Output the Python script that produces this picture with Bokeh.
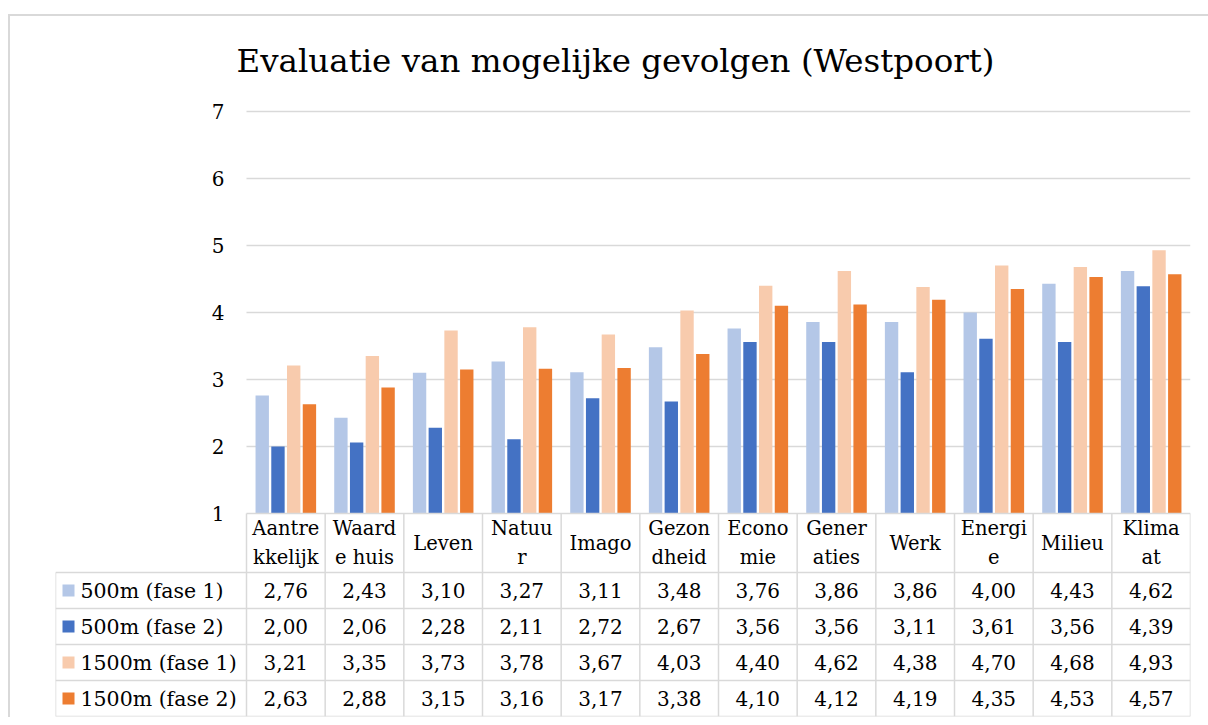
from bokeh.plotting import figure
from bokeh.models import Range1d, LinearAxis, FixedTicker
from bokeh.layouts import column
from bokeh.embed import file_html
from bokeh.resources import INLINE
from bokeh.core.properties import value

chart_title = "Evaluatie van mogelijke gevolgen (Westpoort)"
categories = ["Aantrekkelijk", "Waarde huis", "Leven", "Natuur", "Imago", "Gezondheid",
              "Economie", "Generaties", "Werk", "Energie", "Milieu", "Klimaat"]
header_labels = ["Aantre\nkkelijk", "Waard\ne huis", "Leven", "Natuu\nr", "Imago", "Gezon\ndheid",
                 "Econo\nmie", "Gener\naties", "Werk", "Energi\ne", "Milieu", "Klima\nat"]
series_names = ["500m (fase 1)", "500m (fase 2)", "1500m (fase 1)", "1500m (fase 2)"]
s500_fase1 = [2.76, 2.43, 3.10, 3.27, 3.11, 3.48, 3.76, 3.86, 3.86, 4.00, 4.43, 4.62]
s500_fase2 = [2.00, 2.06, 2.28, 2.11, 2.72, 2.67, 3.56, 3.56, 3.11, 3.61, 3.56, 4.39]
s1500_fase1 = [3.21, 3.35, 3.73, 3.78, 3.67, 4.03, 4.40, 4.62, 4.38, 4.70, 4.68, 4.93]
s1500_fase2 = [2.63, 2.88, 3.15, 3.16, 3.17, 3.38, 4.10, 4.12, 4.19, 4.35, 4.53, 4.57]
y_ticks = [1, 2, 3, 4, 5, 6, 7]
colors = ["#B4C7E7", "#4472C4", "#F8CBAD", "#ED7D31"]

series = [s500_fase1, s500_fase2, s1500_fase1, s1500_fase2]
FONT = "DejaVu Serif"
GRID = "#d9d9d9"

# layout constants (pixels)
U = 944 / 12.0          # px per category
LEG_W = 191.0           # legend column width px
XL = LEG_W / U
PX_PER_UNIT = 67.0
TOP_PAD = 12.0          # room above the top tick for its label
CHART_H = 402.0 + TOP_PAD
HEAD_H = 59.0
ROW_H = 36.0
TBL_H = HEAD_H + ROW_H * len(series)
FRAME_H = CHART_H + TBL_H
ybot = y_ticks[0] - TBL_H / PX_PER_UNIT
ytop = y_ticks[-1] + TOP_PAD / PX_PER_UNIT

n = len(categories)
p = figure(width=1198, height=int(FRAME_H) + 84,
           x_range=Range1d(-XL, n), y_range=Range1d(ybot, ytop),
           output_backend="svg", toolbar_location=None,
           min_border_left=45, min_border_right=18, min_border_top=83, min_border_bottom=1,
           x_axis_location=None, y_axis_location=None)
p.extra_y_ranges = {"tbl": Range1d(start=FRAME_H, end=0)}
p.grid.visible = False
p.outline_line_color = None
p.background_fill_color = "white"

p.title.text = chart_title
p.title.text_font = FONT
p.title.text_font_size = "32.5px"
p.title.text_font_style = "normal"
p.title.text_color = "black"
p.title.align = "left"
p.title.offset = 181
p.title.standoff = 40

# y axis placed at category start
ax = LinearAxis(ticker=FixedTicker(ticks=y_ticks), fixed_location=0,
                axis_line_color=None, major_tick_line_color=None, minor_tick_line_color=None,
                major_label_text_font=FONT, major_label_text_font_size="20px",
                major_label_standoff=16, major_label_text_color="black")
p.add_layout(ax, "left")

# grid lines (ticks above the base)
gy = y_ticks[1:]
p.segment(x0=[0] * len(gy), x1=[n] * len(gy), y0=gy, y1=gy, line_color=GRID, line_width=1.3)

# bars
offsets = [-0.3, -0.1, 0.1, 0.3]
for vals, col, off in zip(series, colors, offsets):
    xs = [i + 0.5 + off for i in range(n)]
    p.vbar(x=xs, top=vals, bottom=y_ticks[0], width=0.17, fill_color=col, line_color=None)

# table lines
tbl_top = CHART_H
row_edges = [tbl_top + HEAD_H + ROW_H * k for k in range(len(series) + 1)]
p.segment(x0=[0], x1=[n], y0=[tbl_top], y1=[tbl_top], line_color=GRID, line_width=1.5, y_range_name="tbl")
p.segment(x0=[-XL] * len(row_edges), x1=[n] * len(row_edges), y0=row_edges, y1=row_edges,
          line_color=GRID, line_width=1.5, y_range_name="tbl")
p.segment(x0=list(range(n + 1)), x1=list(range(n + 1)), y0=[tbl_top] * (n + 1), y1=[FRAME_H] * (n + 1),
          line_color=GRID, line_width=1.5, y_range_name="tbl")
p.segment(x0=[-XL], x1=[-XL], y0=[row_edges[0]], y1=[FRAME_H], line_color=GRID, line_width=1.5,
          y_range_name="tbl")

# header labels
p.text(x=[i + 0.5 for i in range(n)], y=[tbl_top + HEAD_H / 2] * n, text=header_labels,
       text_font=value(FONT), text_font_size="19.5px", text_align="center", text_baseline="middle",
       text_line_height=1.25, text_color="black", y_range_name="tbl")

# values + legend
for k, (vals, col, name) in enumerate(zip(series, colors, series_names)):
    yc = tbl_top + HEAD_H + ROW_H * (k + 0.5)
    p.text(x=[i + 0.5 for i in range(n)], y=[yc] * n,
           text=[f"{v:.2f}".replace(".", ",") for v in vals],
           text_font=value(FONT), text_font_size="20px", text_align="center", text_baseline="middle",
           text_color="black", y_range_name="tbl")
    p.rect(x=[-XL + 13 / U], y=[yc], width=12, height=12, width_units="screen", height_units="screen",
           fill_color=col, line_color=None, y_range_name="tbl")
    p.text(x=[-XL + 25 / U], y=[yc], text=[name], text_font=value(FONT), text_font_size="20.5px",
           text_align="left", text_baseline="middle", text_color="black", y_range_name="tbl")

layout = column(p, styles={"margin-top": "14px", "margin-left": "8px",
                           "border-left": "2px solid #d9d9d9", "border-top": "2px solid #d9d9d9"})

with open("out.html", "w") as f:
    f.write(file_html(layout, INLINE))
